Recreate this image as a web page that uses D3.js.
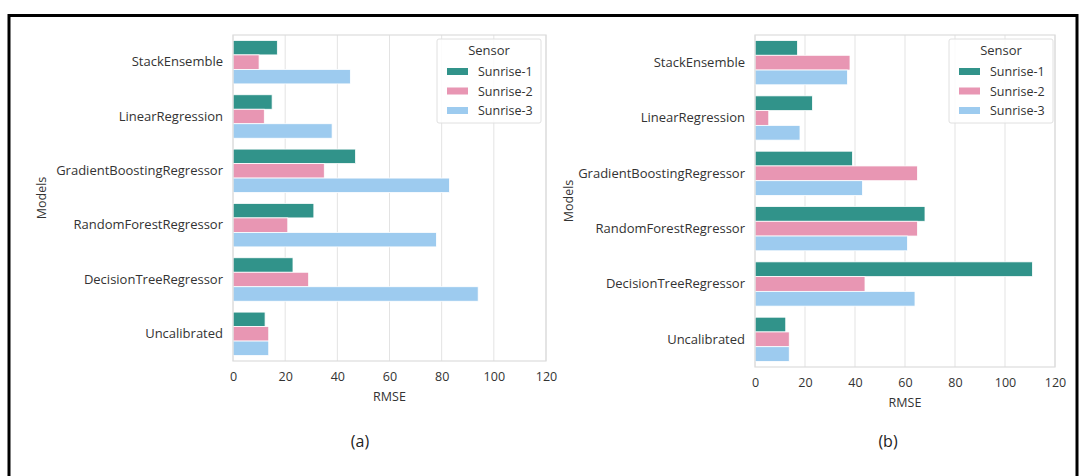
<!DOCTYPE html>
<html>
<head>
<meta charset="utf-8">
<script src="https://cdn.jsdelivr.net/npm/d3@7"></script>
<style>
  html, body { margin: 0; padding: 0; background: #fff; }
  svg { display: block; }
  text { font-family: "Open Sans", "DejaVu Sans", sans-serif; }
</style>
</head>
<body>
<svg id="chart" width="1084" height="476"></svg>
<script>
// ---- data ----
const models = ["StackEnsemble", "LinearRegression", "GradientBoostingRegressor",
                "RandomForestRegressor", "DecisionTreeRegressor", "Uncalibrated"];
const sensors = ["Sunrise-1", "Sunrise-2", "Sunrise-3"];
const xTicks = [0, 20, 40, 60, 80, 100, 120];

// panel (a)
const a_sunrise1 = [17, 15, 47, 31, 23, 12.3];
const a_sunrise2 = [10, 12, 35, 21, 29, 13.7];
const a_sunrise3 = [45, 38, 83, 78, 94, 13.7];
// panel (b)
const b_sunrise1 = [17, 23, 39, 68, 111, 12.3];
const b_sunrise2 = [38, 5.5, 65, 65, 44, 13.7];
const b_sunrise3 = [37, 18, 43, 61, 64, 13.7];

const colors = ["#31938a", "#e896b3", "#9dcbef"];
const textCol = "#333";

const svg = d3.select("#chart");

// outer frame
svg.append("path")
  .attr("d", "M9,476 L9,15.5 L1077,15.5 L1077,476")
  .attr("fill", "none").attr("stroke", "#000").attr("stroke-width", 3);

function drawPanel(cfg) {
  const series = cfg.series;
  const g = svg.append("g");
  const x = d3.scaleLinear().domain([0, 120]).range([cfg.left, cfg.right]);
  const y = d3.scaleBand().domain(models).range([cfg.top, cfg.bottom]).paddingInner(0).paddingOuter(0);
  const inner = d3.scaleBand().domain(sensors).range([0, y.bandwidth() * 0.8]);

  // grid
  g.selectAll("line.grid").data(xTicks).enter().append("line")
    .attr("x1", d => x(d)).attr("x2", d => x(d))
    .attr("y1", cfg.top).attr("y2", cfg.bottom)
    .attr("stroke", "#e3e3e3").attr("stroke-width", 1);

  // bars
  models.forEach((m, i) => {
    sensors.forEach((s, j) => {
      g.append("rect")
        .attr("x", x(0))
        .attr("y", y(m) + y.bandwidth() * 0.1 + inner(s))
        .attr("width", x(series[j][i]) - x(0))
        .attr("height", inner.bandwidth())
        .attr("fill", colors[j])
        .attr("stroke", "#fff").attr("stroke-width", 0.8);
    });
  });

  // frame (spines)
  g.append("rect")
    .attr("x", cfg.left).attr("y", cfg.top)
    .attr("width", cfg.right - cfg.left).attr("height", cfg.bottom - cfg.top)
    .attr("fill", "none").attr("stroke", "#dcdcdc").attr("stroke-width", 1.2);

  // x axis
  const xAxis = d3.axisBottom(x).tickValues(xTicks).tickSize(0).tickPadding(11);
  const xa = g.append("g").attr("transform", `translate(0,${cfg.bottom})`).call(xAxis);
  xa.select(".domain").remove();
  xa.selectAll("text").attr("font-size", 12.5).attr("fill", textCol)
    .style("font-family", '"Open Sans", "DejaVu Sans", sans-serif');

  // y axis
  const yAxis = d3.axisLeft(y).tickSize(0).tickPadding(10);
  const ya = g.append("g").attr("transform", `translate(${cfg.left},0)`).call(yAxis);
  ya.select(".domain").remove();
  ya.selectAll("text").attr("font-size", 13).attr("fill", textCol)
    .style("font-family", '"Open Sans", "DejaVu Sans", sans-serif');

  // axis titles
  g.append("text").attr("x", (cfg.left + cfg.right) / 2).attr("y", cfg.bottom + 40)
    .attr("text-anchor", "middle").attr("font-size", 12.5).attr("fill", textCol).text("RMSE");
  g.append("text")
    .attr("transform", `translate(${cfg.ylabX},${(cfg.top + cfg.bottom) / 2}) rotate(-90)`)
    .attr("text-anchor", "middle").attr("font-size", 12.5).attr("fill", textCol).text("Models");

  // panel caption
  g.append("text").attr("x", cfg.capX).attr("y", 447)
    .attr("text-anchor", "middle").attr("font-size", 16).attr("fill", "#222").text(cfg.caption);

  // legend
  const lg = g.append("g").attr("transform", `translate(${cfg.legX},${cfg.top + 4})`);
  lg.append("rect").attr("x", 0).attr("y", 0).attr("width", 104).attr("height", 84)
    .attr("rx", 2).attr("fill", "#fff").attr("fill-opacity", 0.85)
    .attr("stroke", "#e0e0e0").attr("stroke-width", 1);
  lg.append("text").attr("x", 52).attr("y", 16).attr("text-anchor", "middle")
    .attr("font-size", 13).attr("fill", textCol).text("Sensor");
  sensors.forEach((s, j) => {
    lg.append("rect").attr("x", 10).attr("y", 29 + j * 19.5).attr("width", 21).attr("height", 7)
      .attr("fill", colors[j]);
    lg.append("text").attr("x", 41).attr("y", 37 + j * 19.5)
      .attr("font-size", 12.5).attr("fill", textCol).text(s);
  });
}

drawPanel({ left: 233, right: 546, top: 35, bottom: 361, ylabX: 46, capX: 360, legX: 437,
            caption: "(a)", series: [a_sunrise1, a_sunrise2, a_sunrise3] });
drawPanel({ left: 755, right: 1055, top: 35, bottom: 367, ylabX: 573, capX: 888, legX: 949,
            caption: "(b)", series: [b_sunrise1, b_sunrise2, b_sunrise3] });
</script>
</body>
</html>
